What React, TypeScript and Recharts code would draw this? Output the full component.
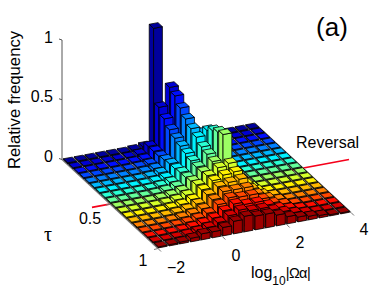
import React from 'react';
import { ScatterChart, Scatter, XAxis, YAxis } from 'recharts';

// Relative frequency per tau row (back, tau=0, to front, tau=1), over 18 log10|Omega alpha| bins
const row00 = [.004,.004,.004,.005,.006,.008,.014,.025,1.0,.01,.006,.005,.004,.004,.004,.004,.004,.004];
const row01 = [.004,.004,.004,.005,.007,.01,.02,.07,.38,.53,.03,.006,.004,.004,.004,.004,.004,.004];
const row02 = [.004,.004,.005,.006,.008,.012,.02,.07,.325,.5,.1,.008,.005,.004,.004,.004,.004,.004];
const row03 = [.004,.004,.005,.006,.008,.013,.022,.07,.275,.44,.18,.01,.005,.004,.004,.004,.004,.004];
const row04 = [.004,.004,.005,.006,.009,.014,.025,.08,.245,.39,.25,.012,.005,.004,.004,.004,.004,.004];
const row05 = [.004,.004,.005,.007,.01,.015,.03,.09,.22,.35,.3,.015,.006,.004,.004,.004,.004,.004];
const row06 = [.004,.004,.005,.007,.01,.017,.03,.09,.2,.32,.36,.02,.006,.004,.004,.004,.004,.004];
const row07 = [.004,.004,.006,.008,.012,.02,.035,.1,.18,.28,.4,.025,.007,.004,.004,.004,.004,.004];
const row08 = [.004,.004,.006,.008,.013,.022,.04,.1,.17,.26,.43,.035,.008,.005,.004,.004,.004,.004];
const row09 = [.004,.005,.006,.009,.015,.025,.045,.11,.17,.24,.45,.05,.01,.005,.004,.004,.004,.004];
const row10 = [.004,.005,.007,.01,.016,.027,.05,.12,.18,.23,.25,.1,.02,.006,.004,.004,.004,.004];
const row11 = [.004,.005,.007,.01,.017,.03,.055,.12,.18,.21,.22,.1,.03,.01,.005,.004,.004,.004];
const row12 = [.004,.005,.008,.012,.019,.032,.06,.12,.17,.19,.2,.1,.04,.015,.007,.004,.004,.004];
const row13 = [.004,.005,.008,.013,.02,.035,.06,.12,.17,.17,.17,.1,.05,.02,.01,.005,.004,.004];
const row14 = [.004,.006,.009,.014,.022,.038,.065,.12,.16,.15,.15,.1,.05,.025,.012,.006,.004,.004];
const row15 = [.004,.006,.01,.015,.025,.04,.065,.11,.15,.13,.13,.09,.05,.03,.015,.008,.005,.004];
const row16 = [.004,.007,.012,.018,.03,.045,.07,.11,.14,.12,.12,.09,.06,.035,.02,.012,.005,.004];
const row17 = [.005,.01,.015,.03,.05,.05,.07,.105,.13,.115,.115,.09,.06,.04,.03,.02,.01,.005];
const rows = [row00,row01,row02,row03,row04,row05,row06,row07,row08,row09,row10,row11,row12,row13,row14,row15,row16,row17];

const zTicks = [0, 0.5, 1];
const xTicks = [-2, 0, 2, 4];
const tauTicks = [0.5, 1];
const xGridLines = [-2, -1.333, -0.667, 0, 0.667, 1.333, 2, 2.667, 3.333, 4];

const W = 374, H = 303;
const origin = { x: 62, y: 159.5 };
const xSpan = { x: 193, y: -36 };   // screen vector of the whole log axis
const tauSpan = { x: 96, y: 89 };   // screen vector of the whole tau axis
const zPx = 119.5;
const FILL = 0.82;
const MIN_PX = 1;
const FONT = '"Liberation Sans", Arial, sans-serif';

const project = (lx: number, tau: number, z = 0) => {
  const fx = (lx + 2) / 6;
  return { px: origin.x + fx * xSpan.x + tau * tauSpan.x, py: origin.y + fx * xSpan.y + tau * tauSpan.y - z * zPx };
};

const jet = (t: number) => {
  const c = (v: number) => Math.round(255 * Math.max(0, Math.min(1, v)));
  return `rgb(${c(Math.min(4 * t - 1.5, -4 * t + 4.5))},${c(Math.min(4 * t - 0.5, -4 * t + 3.5))},${c(Math.min(4 * t + 0.5, -4 * t + 2.5))})`;
};

const nRows = rows.length, nCols = row00.length;
const bars: any[] = [];
for (let r = 0; r < nRows; r++) {
  for (let c = nCols - 1; c >= 0; c--) {
    const lx = -2 + ((c + 0.5) / nCols) * 6;
    const tau = (r + 0.5) / nRows;
    bars.push({ ...project(lx, tau), h: rows[r][c], row: r });
  }
}

const Bar3D = (props: any) => {
  const { cx, cy, payload } = props;
  const ux = (xSpan.x / nCols) * FILL / 2, uy = (xSpan.y / nCols) * FILL / 2;
  const vx = (tauSpan.x / nRows) * FILL / 2, vy = (tauSpan.y / nRows) * FILL / 2;
  const t = Math.max(payload.h * zPx, MIN_PX);
  const P = (a: number, b: number, up: number) => `${(cx + a * ux + b * vx).toFixed(2)},${(cy + a * uy + b * vy - up).toFixed(2)}`;
  const color = jet((payload.row + 0.5) / nRows);
  const common = { fill: color, stroke: '#000', strokeWidth: 0.8, strokeLinejoin: 'round' as const };
  return (
    <g>
      <polygon {...common} points={[P(-1, -1, 0), P(-1, 1, 0), P(-1, 1, t), P(-1, -1, t)].join(' ')} />
      <polygon {...common} points={[P(-1, 1, 0), P(1, 1, 0), P(1, 1, t), P(-1, 1, t)].join(' ')} />
      <polygon {...common} points={[P(-1, -1, t), P(1, -1, t), P(1, 1, t), P(-1, 1, t)].join(' ')} />
    </g>
  );
};

const Nothing = () => <g />;

const Txt = (props: any) => {
  const { cx, cy, payload } = props;
  const p = payload;
  return (
    <text x={cx} y={cy} textAnchor={p.anchor || 'middle'} fontFamily={p.font || FONT} fontSize={p.size || 16} fill="#000"
      transform={p.rotate ? `rotate(${p.rotate} ${cx} ${cy})` : undefined}>
      {p.label}
      {p.sub ? <tspan dy={7} fontSize={12}>{p.sub}</tspan> : null}
      {p.after ? <tspan dy={-7} fontSize={14.5} letterSpacing={-0.6}>{p.after}</tspan> : null}
    </text>
  );
};

const seg = (a: { px: number; py: number }, dx: number, dy: number) => [a, { px: a.px + dx, py: a.py + dy }];

const labels = [
  ...zTicks.map((z) => ({ px: 53, py: project(-2, 0, z).py + 2.5, label: String(z), anchor: 'end' })),
  { px: 90, py: 224, label: '0.5' },
  { px: 143, py: 266, label: '1' },
  { px: 176, py: 273, label: '\u22122' },
  { px: 236, py: 261, label: '0' },
  { px: 300, py: 248, label: '2' },
  { px: 364, py: 235, label: '4' },
  { px: 48, py: 241, label: '\u03C4', font: '"Liberation Serif", serif', size: 20 },
  { px: 296, py: 148, label: 'Reversal', anchor: 'start', size: 16 },
  { px: 332, py: 36, label: '(a)', size: 26 },
  { px: 20, py: 100, label: 'Relative frequency', rotate: -90, size: 16.7 },
  { px: 251, py: 278, label: 'log', anchor: 'start', size: 16, sub: '10', after: '|\u03A9\u03B1|' },
];

const lineProps = (stroke: string, strokeWidth: number) => ({ stroke, strokeWidth });

export default function App() {
  return (
    <div style={{ position: 'absolute', left: 0, top: 0, background: '#fff' }}>
      <ScatterChart width={W} height={H} margin={{ top: 0, right: 0, bottom: 0, left: 0 }}>
        <XAxis type="number" dataKey="px" domain={[0, W]} hide />
        <YAxis type="number" dataKey="py" domain={[0, H]} reversed hide />
        <Scatter data={[project(-2.56, 0.5), project(5.43, 0.5)]} line={lineProps('#f5001a', 1.6)} shape={Nothing} isAnimationActive={false} />
        {xGridLines.map((g) => (
          <Scatter key={g} data={[project(g, 0), project(g, 1)]} line={lineProps('#777', 1.2)} shape={Nothing} isAnimationActive={false} />
        ))}
        <Scatter data={[project(-2, 0, 0), project(-2, 0, 1)]} line={lineProps('#555', 1)} shape={Nothing} isAnimationActive={false} />
        {zTicks.map((z) => (
          <Scatter key={`z${z}`} data={seg(project(-2, 0, z), -3, -1)} line={lineProps('#555', 1)} shape={Nothing} isAnimationActive={false} />
        ))}
        {xTicks.map((x) => (
          <Scatter key={`x${x}`} data={seg(project(x, 1), 3, 3)} line={lineProps('#777', 1)} shape={Nothing} isAnimationActive={false} />
        ))}
        {tauTicks.map((t) => (
          <Scatter key={`t${t}`} data={seg(project(-2, t), -4, 1)} line={lineProps('#777', 1)} shape={Nothing} isAnimationActive={false} />
        ))}
        <Scatter data={bars} shape={Bar3D} isAnimationActive={false} />
        <Scatter data={labels} shape={Txt} isAnimationActive={false} />
      </ScatterChart>
    </div>
  );
}
